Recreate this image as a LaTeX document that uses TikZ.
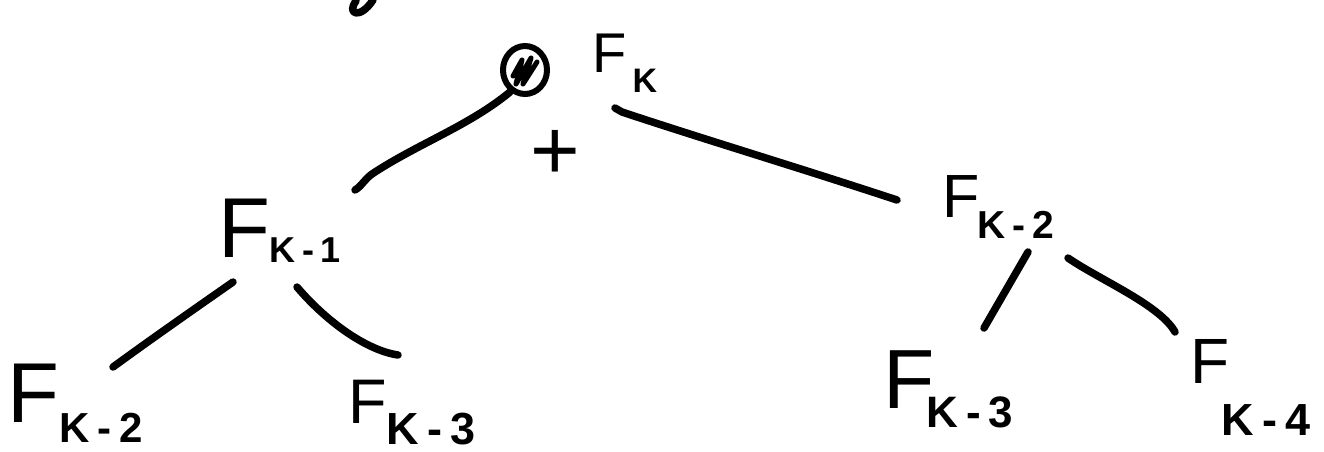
\documentclass[tikz,border=0pt]{standalone}
\usepackage{fontspec}
\setmainfont{Liberation Sans}
\usetikzlibrary{shapes.geometric}
\newcommand\flab[5]{{\fontsize{#1pt}{#1pt}\selectfont F}\kern#3pt\raisebox{-#4pt}{\fontsize{#2pt}{#2pt}\selectfont\bfseries #5}}
\newcommand\sgap{\kern.18em}
\begin{document}
\begin{tikzpicture}[x=1pt,y=-1pt,
  lbl/.style={inner sep=0pt,outer sep=0pt,anchor=base west},
  stroke/.style={line width=7.5pt,line cap=round,line join=round}]
\useasboundingbox (0,0) rectangle (1324,451);
% labels
\node[lbl] (fk)   at (592.5,72)  {\flab{56}{34}{5.9}{20}{K}};
\node[lbl] (fk1)  at (218,257)   {\flab{85}{36}{0}{5}{K\sgap-\sgap1}};
\node[lbl] (fk2)  at (942,217)   {\flab{61}{39}{-2.1}{21}{K\sgap-\sgap2}};
\node[lbl] (fk2b) at (8,422)     {\flab{85}{42}{0}{20}{K\sgap-\sgap2}};
\node[lbl] (fk3a) at (348,423)   {\flab{63}{45}{0.3}{21}{K\sgap-\sgap3}};
\node[lbl] (fk3b) at (883,408)   {\flab{84}{44}{-7.6}{19}{K\sgap-\sgap3}};
\node[lbl] (fk4)  at (1190,383)  {\flab{64}{45}{-7.2}{52}{K\sgap-\sgap4}};
\node[inner sep=0pt] (plus) at (555,155) {\fontsize{85pt}{85pt}\selectfont +};
% circled scribble
\node[draw,line width=6pt,ellipse,minimum width=44pt,minimum height=48pt,inner sep=0pt] (circ) at (525,70) {};
\draw[line width=5pt,line cap=round,line join=round] (513,76) -- (522,60) -- (516,84) -- (531,58) -- (523,84) -- (537,62);
% fragment of a letter at the top edge
\draw[stroke] (356,1) .. controls (346,14) and (360,20) .. (373,0);
% connector end points
\coordinate (c1a) at (510,92);
\coordinate (c1b) at (355,190);
\coordinate (c2a) at (615,108);
\coordinate (c2b) at (897,200);
\coordinate (c3a) at (233,282);
\coordinate (c3b) at (113,367);
\coordinate (c4a) at (297,287);
\coordinate (c4b) at (398,355);
\coordinate (c5a) at (1028,252);
\coordinate (c5b) at (984,328);
\coordinate (c6a) at (1068,258);
\coordinate (c6b) at (1175,332);
% connectors
\draw[stroke] (c1a) .. controls (470,125) and (420,143) .. (375,172) .. controls (365,178) and (362,186) .. (c1b);
\draw[stroke] (c2a) -- (622,112) .. controls (700,138) and (800,168) .. (c2b);
\draw[stroke] (c3a) .. controls (190,312) and (150,340) .. (c3b);
\draw[stroke] (c4a) .. controls (325,320) and (365,350) .. (c4b);
\draw[stroke] (c5a) -- (c5b);
\draw[stroke] (c6a) .. controls (1100,280) and (1160,305) .. (c6b);
\end{tikzpicture}
\end{document}
